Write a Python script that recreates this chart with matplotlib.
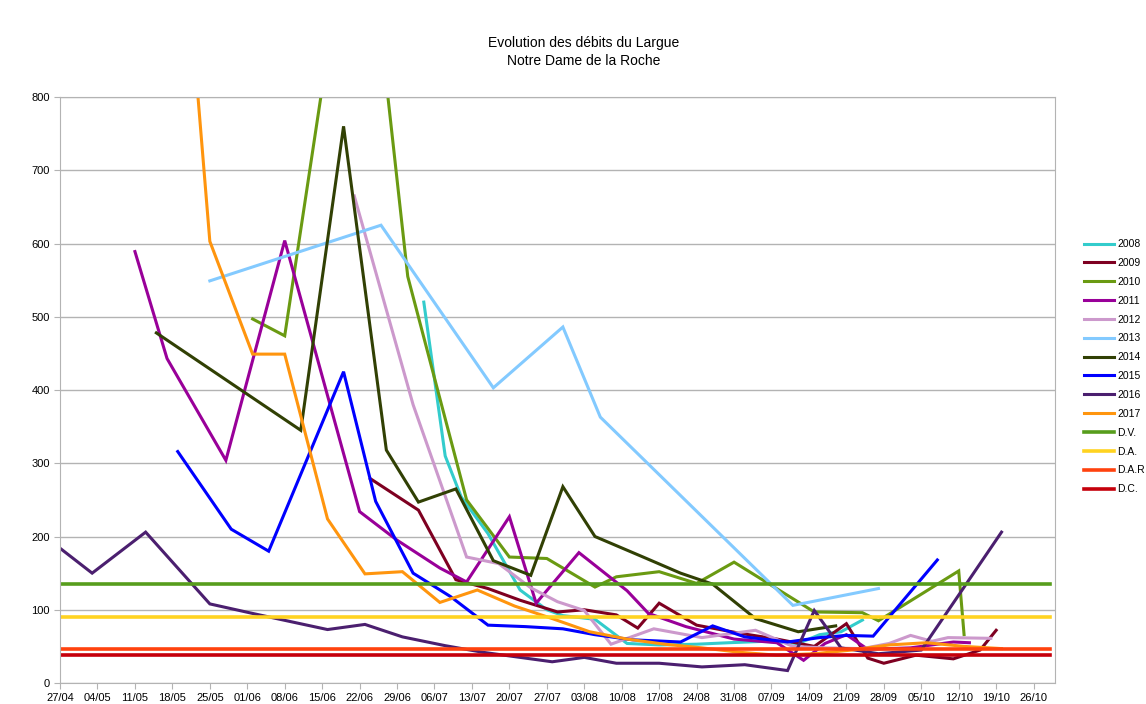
import datetime as dt
import matplotlib
matplotlib.use("Agg")
import matplotlib.pyplot as plt

plt.rcParams['font.family'] = ['Liberation Sans', 'DejaVu Sans']

# axe des dates (semaines)
debut = "27/04"
semaines = ["27/04", "04/05", "11/05", "18/05", "25/05", "01/06", "08/06", "15/06",
            "22/06", "29/06", "06/07", "13/07", "20/07", "27/07", "03/08", "10/08",
            "17/08", "24/08", "31/08", "07/09", "14/09", "21/09", "28/09", "05/10",
            "12/10", "19/10", "26/10"]

# mesures par annee (date jj/mm, debit)
dates_2008 = ["04/07", "08/07", "11/07", "16/07", "22/07", "27/07", "30/07", "05/08", "11/08",
              "17/08", "24/08", "30/08", "06/09", "12/09", "16/09", "20/09", "24/09"]
debit_2008 = [520, 310, 254, 204, 127, 100, 92, 87, 54, 52, 53, 55, 57, 54, 66, 70, 86]

dates_2009 = ["24/06", "03/07", "10/07", "16/07", "22/07", "29/07", "03/08", "09/08", "13/08",
              "17/08", "24/08", "01/09", "08/09", "15/09", "21/09", "25/09", "28/09", "04/10",
              "11/10", "16/10", "19/10"]
debit_2009 = [279, 236, 141, 129, 113, 97, 100, 93, 75, 109, 79, 68, 60, 50, 81, 34, 27, 38,
              33, 45, 72]

dates_2010 = ["02/06", "08/06", "22/06", "01/07", "12/07", "20/07", "27/07", "05/08", "09/08",
              "17/08", "24/08", "31/08", "15/09", "24/09", "27/09", "12/10", "13/10"]
debit_2010 = [497, 474, 1150, 555, 250, 172, 170, 131, 145, 152, 136, 165, 97, 96, 85, 153, 66]

dates_2011 = ["11/05", "17/05", "28/05", "08/06", "22/06", "29/06", "07/07", "12/07", "20/07",
              "25/07", "02/08", "11/08", "15/08", "22/08", "31/08", "08/09", "13/09", "17/09",
              "21/09", "25/09", "03/10", "11/10", "14/10"]
debit_2011 = [589, 443, 304, 604, 234, 195, 157, 138, 227, 109, 178, 126, 95, 77, 60, 55, 31,
              54, 66, 46, 48, 56, 55]

dates_2012 = ["21/06", "02/07", "12/07", "18/07", "24/07", "29/07", "03/08", "08/08", "16/08",
              "25/08", "04/09", "11/09", "17/09", "24/09", "29/09", "03/10", "07/10", "10/10",
              "18/10"]
debit_2012 = [665, 380, 172, 163, 130, 111, 99, 53, 74, 62, 72, 50, 48, 47, 54, 65, 57, 62, 61]

dates_2013 = ["25/05", "26/06", "17/07", "30/07", "06/08", "11/09", "27/09"]
debit_2013 = [549, 625, 403, 486, 363, 106, 129]

dates_2014 = ["15/05", "11/06", "19/06", "27/06", "03/07", "10/07", "17/07", "24/07", "30/07",
              "05/08", "14/08", "21/08", "27/08", "04/09", "12/09", "19/09"]
debit_2014 = [478, 345, 760, 318, 247, 265, 167, 147, 268, 200, 172, 150, 135, 88, 70, 78]

dates_2015 = ["19/05", "29/05", "05/06", "19/06", "25/06", "02/07", "09/07", "16/07", "23/07",
              "30/07", "05/08", "12/08", "21/08", "27/08", "02/09", "10/09", "16/09", "21/09",
              "26/09", "08/10"]
debit_2015 = [316, 210, 180, 425, 248, 150, 118, 79, 77, 74, 66, 59, 56, 78, 63, 56, 62, 65,
              64, 168]

dates_2016 = ["27/04", "03/05", "13/05", "25/05", "02/06", "09/06", "16/06", "23/06", "30/06",
              "08/07", "15/07", "22/07", "28/07", "03/08", "09/08", "17/08", "25/08", "02/09",
              "10/09", "15/09", "20/09", "27/09", "05/10", "20/10"]
debit_2016 = [184, 150, 206, 108, 95, 84, 73, 80, 63, 51, 42, 35, 29, 35, 27, 27, 22, 25, 17,
              99, 48, 40, 45, 206]

dates_2017 = ["22/05", "25/05", "02/06", "08/06", "16/06", "23/06", "30/06", "07/07", "14/07",
              "21/07", "28/07", "04/08", "11/08", "18/08", "25/08", "01/09", "08/09", "15/09",
              "22/09", "29/09", "06/10", "13/10", "20/10"]
debit_2017 = [870, 603, 449, 449, 224, 149, 152, 110, 127, 105, 88, 70, 60, 53, 48, 42, 38, 40,
              45, 52, 55, 50, 47]

# debits de reference (constants)
seuils = ["D.V.", "D.A.", "D.A.R", "D.C."]
seuils_val = [135, 90, 47, 38]
seuils_dates = ["27/04", "29/10"]

annees = ["2008", "2009", "2010", "2011", "2012", "2013", "2014", "2015", "2016", "2017"]
series_dates = [dates_2008, dates_2009, dates_2010, dates_2011, dates_2012, dates_2013,
                dates_2014, dates_2015, dates_2016, dates_2017]
series_debit = [debit_2008, debit_2009, debit_2010, debit_2011, debit_2012, debit_2013,
                debit_2014, debit_2015, debit_2016, debit_2017]
couleurs = ["#33CCCC", "#7E0021", "#6A9A12", "#990099", "#CC99CC", "#83CAFF", "#314004",
            "#0000FF", "#4B1F6F", "#FF950E"]
couleurs_seuils = ["#579D1C", "#FFD320", "#FF420E", "#C5000B"]


def jour(s):
    # nombre de jours depuis le 27/04
    j, m = s.split("/")
    d = dt.date(2017, int(m), int(j))
    j0, m0 = debut.split("/")
    return (d - dt.date(2017, int(m0), int(j0))).days


fig = plt.figure(figsize=(11.46, 7.04), dpi=100, facecolor='white')
ax = fig.add_axes([0.0524, 0.0298, 0.8682, 0.8324])

for nom, dd, vv, c in zip(annees, series_dates, series_debit, couleurs):
    ax.plot([jour(s) for s in dd], vv, color=c, lw=2.2, label=nom, solid_joinstyle='miter')

for nom, v, c in zip(seuils, seuils_val, couleurs_seuils):
    ax.plot([jour(s) for s in seuils_dates], [v, v], color=c, lw=2.6, label=nom)

ax.set_xlim(0, 186)
ax.set_ylim(0, 800)
ax.set_xticks([jour(s) for s in semaines])
ax.set_xticklabels(semaines)
ax.set_yticks(range(0, 801, 100))
ax.tick_params(axis='both', labelsize=8, colors='#B3B3B3', labelcolor='black', length=4)
ax.grid(axis='y', color='#B3B3B3', lw=1)
ax.set_axisbelow(True)
for sp in ax.spines.values():
    sp.set_color('#B3B3B3')

fig.text(0.509, 1 - 52 / 704, "Evolution des débits du Largue\nNotre Dame de la Roche",
         ha='center', va='center', fontsize=10, linespacing=1.4)

fig.legend(loc='upper left', bbox_to_anchor=(1080 / 1146, 1 - 235 / 704), frameon=False,
           fontsize=7.5, handlelength=2.9, labelspacing=0.85, handletextpad=0.3,
           borderaxespad=0)

fig.savefig("out.png", dpi=100, facecolor='white')
